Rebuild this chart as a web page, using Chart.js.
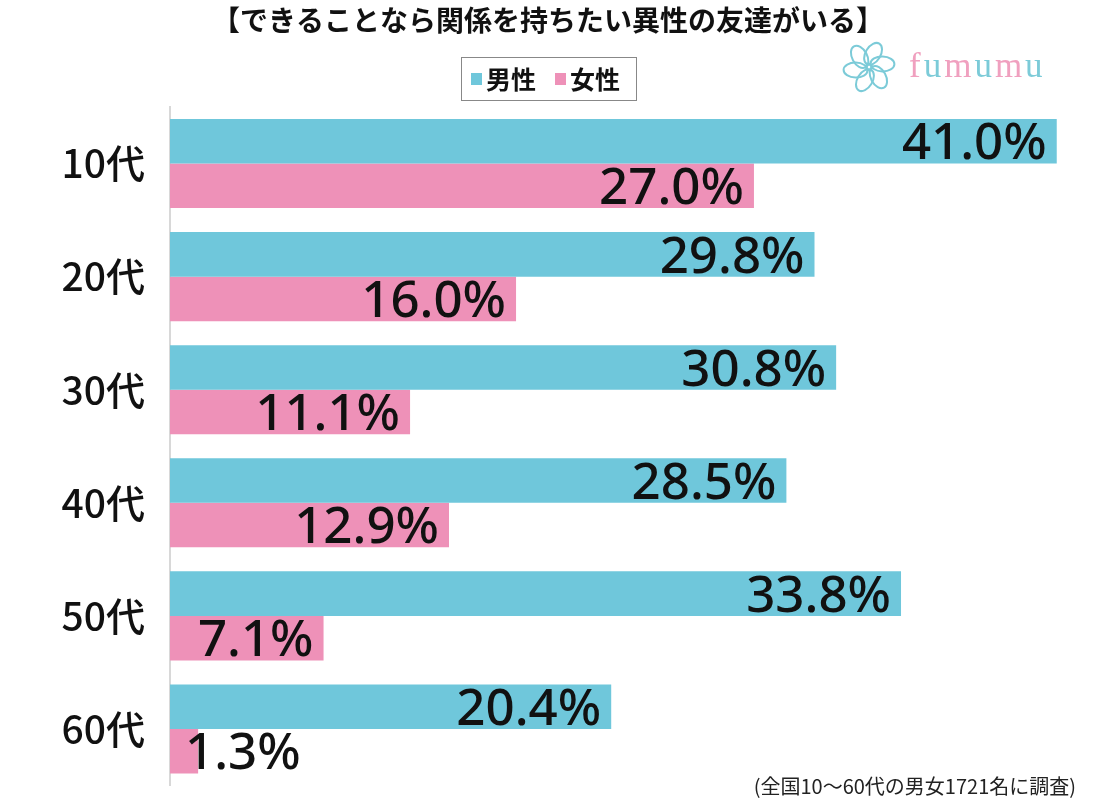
<!DOCTYPE html>
<html>
<head>
<meta charset="utf-8">
<script src="https://cdn.jsdelivr.net/npm/chart.js@4"></script>
<style>
  html, body { margin: 0; padding: 0; background: #fff; }
  #wrap { width: 1103px; height: 800px; position: relative; overflow: hidden; }
</style>
</head>
<body>
<div id="wrap"><canvas id="chart" width="1103" height="830"></canvas></div>
<script>
// データ
const ageGroups = ['10代', '20代', '30代', '40代', '50代', '60代'];
const maleValues = [41.0, 29.8, 30.8, 28.5, 33.8, 20.4];
const femaleValues = [27.0, 16.0, 11.1, 12.9, 7.1, 1.3];
const seriesNames = ['男性', '女性'];
const seriesColors = ['#6fc7db', '#ee91b8'];
const chartTitle = '【できることなら関係を持ちたい異性の友達がいる】';
const footNote = '(全国10〜60代の男女1721名に調査)';

const JP = '"Noto Sans CJK JP", "Noto Sans", sans-serif';

// 花のロゴ（線画）
function drawFlower(ctx, cx, cy, r) {
    ctx.save();
    ctx.strokeStyle = '#7ccbd8';
    ctx.lineWidth = 2;
    for (let k = 0; k < 6; k++) {
        ctx.save();
        ctx.translate(cx, cy);
        ctx.rotate(k * Math.PI / 3 + 0.3);
        ctx.beginPath();
        ctx.ellipse(0, -r * 0.55, r * 0.3, r * 0.48, 0.25, 0, Math.PI * 2);
        ctx.stroke();
        ctx.restore();
    }
    ctx.beginPath();
    ctx.arc(cx, cy, r * 0.12, 0, Math.PI * 2);
    ctx.stroke();
    ctx.restore();
}

// タイトル・凡例・ロゴ・注記
const decorPlugin = {
    id: 'decor',
    afterDraw(chart) {
        const ctx = chart.ctx;
        ctx.save();
        ctx.fillStyle = '#111';
        ctx.textAlign = 'center';
        ctx.textBaseline = 'middle';
        ctx.font = `bold 28px ${JP}`;
        ctx.fillText(chartTitle, 548, 20);

        // 凡例
        ctx.strokeStyle = '#888';
        ctx.lineWidth = 1;
        ctx.strokeRect(461.5, 57.5, 175, 43);
        ctx.font = `bold 25px ${JP}`;
        ctx.textAlign = 'left';
        let x = 471;
        seriesNames.forEach((name, i) => {
            ctx.fillStyle = seriesColors[i];
            ctx.fillRect(x, 73, 11, 12);
            ctx.fillStyle = '#111';
            ctx.fillText(name, x + 15, 79);
            x += 84;
        });

        // ロゴ
        drawFlower(ctx, 869, 67, 25);
        ctx.font = '35px "Liberation Serif", serif';
        ctx.textAlign = 'left';
        let lx = 909;
        'fumumu'.split('').forEach((ch, i) => {
            ctx.fillStyle = i % 2 === 0 ? '#f0a0bf' : '#7ccbd8';
            ctx.fillText(ch, lx, 68);
            lx += ctx.measureText(ch).width + 3;
        });

        // 注記
        ctx.fillStyle = '#222';
        ctx.font = `20px ${JP}`;
        ctx.textAlign = 'right';
        ctx.fillText(footNote, 1076, 786);
        ctx.restore();
    }
};

// 数値ラベル
const valueLabelPlugin = {
    id: 'valueLabels',
    afterDatasetsDraw(chart) {
        const ctx = chart.ctx;
        const size = 51;
        ctx.save();
        ctx.font = `500 ${size}px "Noto Sans", sans-serif`;
        ctx.fillStyle = '#111';
        ctx.textBaseline = 'alphabetic';
        chart.data.datasets.forEach((ds, di) => {
            const meta = chart.getDatasetMeta(di);
            meta.data.forEach((bar, i) => {
                const text = ds.data[i].toFixed(1) + '%';
                const w = ctx.measureText(text).width;
                const y = bar.y + size * 0.357;
                if (bar.x - bar.base > w + 20) {
                    ctx.textAlign = 'right';
                    ctx.fillText(text, bar.x - 10, y);
                } else {
                    ctx.textAlign = 'left';
                    ctx.fillText(text, bar.base + 15, y);
                }
            });
        });
        ctx.restore();
    }
};

new Chart(document.getElementById('chart').getContext('2d'), {
    type: 'bar',
    data: {
        labels: ageGroups,
        datasets: [
            { label: seriesNames[0], data: maleValues, backgroundColor: seriesColors[0] },
            { label: seriesNames[1], data: femaleValues, backgroundColor: seriesColors[1] }
        ]
    },
    options: {
        indexAxis: 'y',
        responsive: false,
        animation: false,
        events: [],
        categoryPercentage: 0.788,
        barPercentage: 1.0,
        layout: { padding: { top: 107, bottom: -20, right: 3, left: 0 } },
        plugins: {
            legend: { display: false },
            title: { display: false },
            tooltip: { enabled: false }
        },
        scales: {
            x: {
                min: 0,
                max: 43,
                display: false,
                grid: { display: false }
            },
            y: {
                afterFit(scale) { scale.width = 170; },
                grid: { display: false, drawTicks: false },
                border: { display: true, color: '#d8d8d8', width: 2 },
                ticks: {
                    color: '#111',
                    padding: 25,
                    font: { family: JP, size: 39, weight: '500', lineHeight: 1 }
                }
            }
        }
    },
    plugins: [decorPlugin, valueLabelPlugin]
});
</script>
</body>
</html>
